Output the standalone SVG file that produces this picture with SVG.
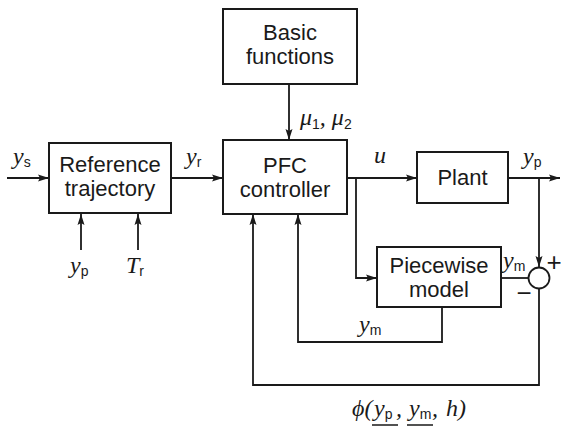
<svg xmlns="http://www.w3.org/2000/svg" width="561" height="428" viewBox="0 0 561 428">
  <style>
    .box { fill: #fff; stroke: #1a1a1a; stroke-width: 2; }
    .lbl { font-family: "Liberation Sans", Arial, sans-serif; font-size: 22px; fill: #1a1a1a; text-anchor: middle; }
    .wire { fill: none; stroke: #1a1a1a; stroke-width: 1.8; }
    .math { font-family: "Liberation Serif", "Times New Roman", serif; font-style: italic; font-size: 24px; fill: #1a1a1a; }
    .sub { font-family: "Liberation Sans", Arial, sans-serif; font-style: normal; font-size: 14px; }
    .sign { font-family: "Liberation Sans", Arial, sans-serif; font-size: 26px; fill: #1a1a1a; text-anchor: middle; }
  </style>
  <defs>
    <marker id="arrow" markerUnits="userSpaceOnUse" markerWidth="12" markerHeight="8" refX="11" refY="4" orient="auto">
      <path d="M0,0.5 L11,4 L0,7.5 L2,4 z" fill="#1a1a1a"/>
    </marker>
  </defs>

  <rect width="561" height="428" fill="#fff"/>

  <!-- connectors -->
  <g id="connectors" class="wire">
    <path d="M7,178 H49" marker-end="url(#arrow)"/>
    <path d="M172,178 H223" marker-end="url(#arrow)"/>
    <path d="M289,84 V140" marker-end="url(#arrow)"/>
    <path d="M347,178 H417" marker-end="url(#arrow)"/>
    <path d="M356,178 V278 H377" marker-end="url(#arrow)"/>
    <path d="M508,178 H560" marker-end="url(#arrow)"/>
    <path d="M539,178 V267" marker-end="url(#arrow)"/>
    <path d="M501,278 H529"/>
    <path d="M539,288 V385 H253 V214" marker-end="url(#arrow)"/>
    <path d="M442,307 V342 H298 V214" marker-end="url(#arrow)"/>
    <path d="M81,250 V214" marker-end="url(#arrow)"/>
    <path d="M138,250 V214" marker-end="url(#arrow)"/>
  </g>

  <!-- blocks -->
  <g id="reference-trajectory">
    <rect class="box" x="49" y="143" width="122" height="70"/>
    <text class="lbl" x="110" y="172">Reference</text>
    <text class="lbl" x="110" y="196">trajectory</text>
  </g>
  <g id="basic-functions">
    <rect class="box" x="223" y="9" width="134" height="75"/>
    <text class="lbl" x="290" y="40">Basic</text>
    <text class="lbl" x="290" y="64">functions</text>
  </g>
  <g id="pfc-controller">
    <rect class="box" x="223" y="140" width="124" height="74"/>
    <text class="lbl" x="285" y="173">PFC</text>
    <text class="lbl" x="285" y="197">controller</text>
  </g>
  <g id="plant">
    <rect class="box" x="417" y="152" width="91" height="51"/>
    <text class="lbl" x="462.5" y="185">Plant</text>
  </g>
  <g id="piecewise-model">
    <rect class="box" x="377" y="247" width="124" height="60"/>
    <text class="lbl" x="439" y="273">Piecewise</text>
    <text class="lbl" x="439" y="297">model</text>
  </g>
  <g id="summing-junction">
    <circle cx="539" cy="278" r="10.5" fill="#fff" stroke="#1a1a1a" stroke-width="1.8"/>
    <text class="sign" x="554" y="271">+</text>
    <text class="sign" x="524" y="302">−</text>
  </g>

  <!-- signal labels -->
  <g id="labels">
    <text class="math" x="13" y="164">y<tspan class="sub" dy="3">s</tspan></text>
    <text class="math" x="186" y="164">y<tspan class="sub" dy="3">r</tspan></text>
    <text class="math" x="300" y="125">μ<tspan class="sub" dy="4">1</tspan><tspan dy="-4">, μ</tspan><tspan class="sub" dy="4">2</tspan></text>
    <text class="math" x="374" y="163">u</text>
    <text class="math" x="523" y="164">y<tspan class="sub" dy="3">p</tspan></text>
    <text class="math" x="503" y="268">y<tspan class="sub" dy="3">m</tspan></text>
    <text class="math" x="359" y="332">y<tspan class="sub" dy="3">m</tspan></text>
    <text class="math" x="70" y="273">y<tspan class="sub" dy="3">p</tspan></text>
    <text class="math" x="126" y="273">T<tspan class="sub" dy="3">r</tspan></text>
    <text class="math" x="352" y="416">ϕ(</text>
    <text class="math" x="374" y="416">y<tspan class="sub" dy="3">p</tspan></text>
    <text class="math" x="396" y="416">,</text>
    <text class="math" x="409" y="416">y<tspan class="sub" dy="3">m</tspan></text>
    <text class="math" x="432" y="416">,</text>
    <text class="math" x="446" y="416">h)</text>
    <path d="M372,425 H398 M407,425 H433" stroke="#1a1a1a" stroke-width="1.5"/>
  </g>
</svg>
